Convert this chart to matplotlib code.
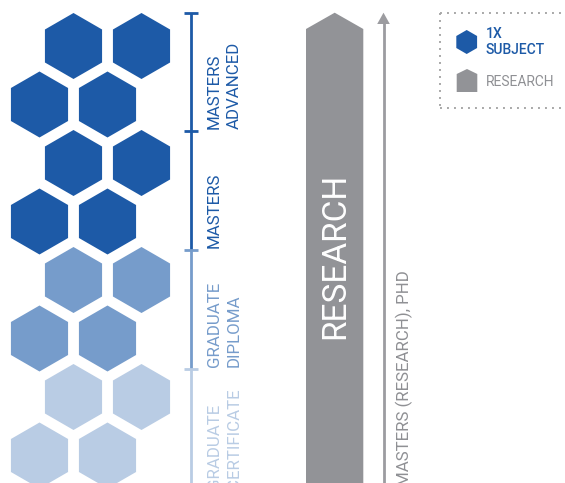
import matplotlib.pyplot as plt
from matplotlib.patches import RegularPolygon, Polygon

plt.rcParams['font.family'] = ['Roboto', 'DejaVu Sans']

# levels from bottom to top, 4 subjects each
levels = ["GRADUATE\nCERTIFICATE", "GRADUATE\nDIPLOMA", "MASTERS", "MASTERS\nADVANCED"]
subjects = [4, 4, 4, 4]
level_colors = ["#b9cce4", "#769ccb", "#1d5aa7", "#1d5aa7"]
research_label = "RESEARCH"
research_note = "MASTERS (RESEARCH), PHD"
legend_labels = ["1X\nSUBJECT", "RESEARCH"]

GREY = "#929397"

fig = plt.figure(figsize=(5.65, 4.83), dpi=100)
ax = fig.add_axes([0, 0, 1, 1])
ax.set_xlim(0, 565)
ax.set_ylim(483, 0)
ax.axis("off")

# hexagon grid (pixel-like layout units)
R = 33
dx = 68
dy = 58.5
top_y = 46
row = 0
for lvl in range(len(levels) - 1, -1, -1):
    for k in range(subjects[lvl] // 2):
        cy = top_y + row * dy
        x0 = 73.5 if row % 2 == 0 else 39.5
        for j in range(2):
            ax.add_patch(RegularPolygon((x0 + j * dx, cy), 6, radius=R,
                                        facecolor=level_colors[lvl], edgecolor="none"))
        row += 1

# brackets with labels
bx = 191
seg_top = 12.7
seg_h = 118.7
for i, lvl in enumerate(range(len(levels) - 1, -1, -1)):
    y0 = seg_top + i * seg_h
    y1 = y0 + seg_h if i < len(levels) - 1 else 483
    c = level_colors[lvl]
    ax.plot([bx, bx], [y0, y1], color=c, lw=2, solid_capstyle="butt")
    ax.plot([bx - 7, bx + 7], [y0, y0], color=c, lw=2, solid_capstyle="butt")
    lines = levels[lvl].split("\n")
    for li, t in enumerate(lines):
        if lvl == 0:
            # bottom level runs off the lower edge, as in the original
            tops = [404, 388]
            ax.text(214 + li * 20, tops[li], t, rotation=90, ha="center", va="top",
                    fontsize=12.2, color=c)
        else:
            ax.text(214 + li * 20, y0 + seg_h - 2, t, rotation=90, ha="center",
                    va="bottom", fontsize=12.2, color=c)

# big research arrow
ax.add_patch(Polygon([(306, 483), (306, 29), (334.7, 12.7), (363.3, 29), (363.3, 483)],
                     closed=True, facecolor=GREY, edgecolor="none"))
ax.text(335, 256, research_label, rotation=90, ha="center", va="center",
        fontsize=24, color="white")

# thin arrow
ax.plot([383.5, 383.5], [483, 23], color="#9c9ca0", lw=2)
ax.add_patch(Polygon([(377.2, 24), (389.8, 24), (383.5, 12.7)], closed=True,
                     facecolor="#9c9ca0", edgecolor="none"))
ax.text(404, 270, research_note, rotation=90, ha="center", va="top",
        fontsize=12.2, color="#8f9094")

# legend box (dotted)
dot = dict(color="#a8a8a8", lw=1.4, linestyle=(0, (1, 2.6)))
ax.plot([440, 565], [12.7, 12.7], **dot)
ax.plot([440, 440], [12.7, 108], **dot)
ax.plot([440, 565], [108, 108], **dot)

ax.add_patch(RegularPolygon((466.7, 42), 6, radius=12, facecolor="#1d5aa7", edgecolor="none"))
ax.text(485.5, 42, legend_labels[0], ha="left", va="center", fontsize=10,
        fontweight="medium", color="#1d5aa7", linespacing=1.1)
ax.add_patch(Polygon([(456.7, 92), (456.7, 74), (467, 69), (477.3, 74), (477.3, 92)],
                     closed=True, facecolor=GREY, edgecolor="none"))
ax.text(485.5, 82, legend_labels[1], ha="left", va="center", fontsize=10,
        color="#8f9094")

fig.savefig("out.png", dpi=100)
